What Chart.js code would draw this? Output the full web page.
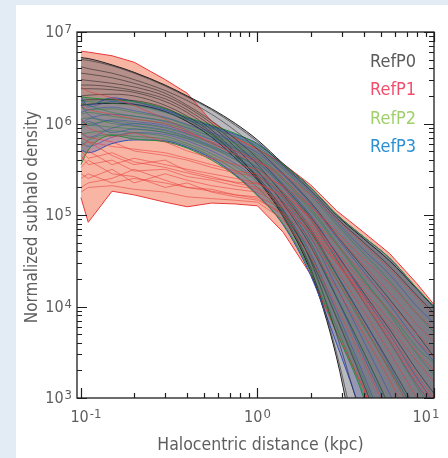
<!DOCTYPE html>
<html>
<head>
<meta charset="utf-8">
<script src="https://cdn.jsdelivr.net/npm/chart.js@4.4.1/dist/chart.umd.min.js"></script>
<style>
  html, body { margin: 0; padding: 0; background: #e3ebf5; }
  #panel { position: absolute; left: 16px; top: 5px; width: 432px; height: 453px; background: #fff; }
  canvas { display: block; }
</style>
</head>
<body>
<div id="panel"><canvas id="chart" width="432" height="453"></canvas></div>
<script>
// halocentric distance (kpc) shared by every curve
const radii = [0.1, 0.11, 0.15, 0.2, 0.3, 0.4, 0.55, 0.75, 1, 1.4, 2, 2.8, 4, 5.6, 8, 10];

const seriesNames = ['RefP0', 'RefP1', 'RefP2', 'RefP3'];
const xTicks = [0.1, 1, 10];
const xTickExps = ['-1', '0', '1'];
const yTicks = [1e3, 1e4, 1e5, 1e6, 1e7];
const yTickExps = ['3', '4', '5', '6', '7'];

// RefP0 envelope + individual haloes
const p0Upper = [5.25e6, 5.13e6, 4.37e6, 3.63e6, 2.63e6, 2.0e6, 1.45e6, 1.0e6, 6.61e5, 3.63e5, 2.0e5, 1.0e5, 5.5e4, 3.16e4, 1.55e4, 9.77e3];
const p0Lower = [1.58e6, 1.62e6, 1.66e6, 1.62e6, 1.35e6, 1.05e6, 7.08e5, 4.17e5, 2.4e5, 9.55e4, 2.4e4, 2.82e3, 100, 10, 10, 10];
const p0Lines = [
  [5.01e6, 4.9e6, 4.27e6, 3.55e6, 2.57e6, 1.95e6, 1.41e6, 9.55e5, 6.31e5, 3.47e5, 1.86e5, 9.33e4, 5.01e4, 2.75e4, 1.32e4, 8.51e3],
  [4.17e6, 3.98e6, 3.55e6, 3.02e6, 2.29e6, 1.78e6, 1.26e6, 8.32e5, 5.25e5, 2.82e5, 1.38e5, 6.03e4, 2.63e4, 1.2e4, 5.01e3, 2.82e3],
  [3.55e6, 3.47e6, 3.16e6, 2.75e6, 2.14e6, 1.58e6, 1.07e6, 6.76e5, 4.17e5, 2.09e5, 9.55e4, 3.8e4, 1.41e4, 5.62e3, 2.0e3, 1.12e3],
  [3.02e6, 2.95e6, 2.75e6, 2.51e6, 2.0e6, 1.51e6, 1.0e6, 6.03e5, 3.55e5, 1.66e5, 6.61e4, 2.24e4, 7.08e3, 2.4e3, 708, 316],
  [2.63e6, 2.63e6, 2.51e6, 2.29e6, 1.86e6, 1.41e6, 9.33e5, 5.5e5, 3.02e5, 1.32e5, 4.57e4, 1.26e4, 3.16e3, 794, 158, 63],
  [2.4e6, 2.4e6, 2.34e6, 2.19e6, 1.74e6, 1.32e6, 8.51e5, 4.79e5, 2.51e5, 1.05e5, 3.31e4, 7.59e3, 1.41e3, 251, 32, 10],
  [2.0e6, 2.04e6, 2.09e6, 2.0e6, 1.58e6, 1.2e6, 7.94e5, 4.47e5, 2.63e5, 1.12e5, 3.16e4, 5.01e3, 501, 63, 10, 10],
  [1.78e6, 1.82e6, 1.82e6, 1.78e6, 1.48e6, 1.12e6, 7.59e5, 4.57e5, 2.51e5, 1.0e5, 2.63e4, 3.16e3, 158, 10, 10, 10]
];

// RefP1
const p1Upper = [6.17e6, 6.03e6, 5.5e6, 4.68e6, 3.02e6, 2.14e6, 1.05e6, 6.92e5, 5.25e5, 3.63e5, 2.14e5, 1.12e5, 6.46e4, 3.8e4, 1.78e4, 1.05e4];
const p1Lower = [1.55e5, 8.32e4, 1.82e5, 1.66e5, 1.38e5, 1.23e5, 1.35e5, 1.32e5, 1.26e5, 6.46e4, 2.24e4, 5.25e3, 1.26e3, 200, 32, 10];
const p1Lines = [
  [1.12e6, 8.91e5, 7.08e5, 7.94e5, 6.31e5, 5.01e5, 4.17e5, 3.55e5, 3.16e5, 2.0e5, 8.91e4, 3.55e4, 1.26e4, 5.01e3, 1.78e3, 1.0e3],
  [3.98e5, 5.01e5, 3.55e5, 4.17e5, 3.55e5, 3.16e5, 2.82e5, 2.51e5, 2.24e5, 1.58e5, 7.94e4, 3.55e4, 1.51e4, 7.08e3, 3.16e3, 2.0e3],
  [2.82e5, 2.51e5, 3.16e5, 2.24e5, 2.82e5, 2.4e5, 2.09e5, 1.91e5, 1.78e5, 1.26e5, 6.31e4, 2.51e4, 8.91e3, 3.16e3, 1.0e3, 501],
  [2.0e5, 2.24e5, 2.51e5, 3.16e5, 2.4e5, 2.0e5, 1.91e5, 1.66e5, 1.51e5, 1.0e5, 4.47e4, 1.58e4, 5.01e3, 1.58e3, 398, 200],
  [5.62e5, 6.31e5, 4.47e5, 3.55e5, 3.98e5, 3.02e5, 2.63e5, 2.24e5, 2.0e5, 1.41e5, 7.59e4, 3.16e4, 1.2e4, 4.47e3, 1.58e3, 891],
  [7.94e5, 7.08e5, 6.31e5, 5.01e5, 4.47e5, 3.98e5, 3.31e5, 2.88e5, 2.63e5, 1.78e5, 8.91e4, 3.98e4, 1.78e4, 8.91e3, 4.17e3, 2.82e3],
  [3.31e5, 3.98e5, 2.82e5, 2.63e5, 2.0e5, 2.24e5, 1.78e5, 1.58e5, 1.45e5, 1.05e5, 5.62e4, 2.0e4, 6.31e3, 2.0e3, 562, 251],
  [4.47e5, 3.55e5, 3.98e5, 3.02e5, 3.16e5, 2.63e5, 2.4e5, 2.09e5, 1.91e5, 1.32e5, 7.08e4, 3.02e4, 1.12e4, 4.17e3, 1.41e3, 794],
  [1.58e6, 1.41e6, 1.26e6, 1.12e6, 1.0e6, 7.94e5, 6.31e5, 5.01e5, 3.98e5, 2.51e5, 1.26e5, 6.03e4, 2.82e4, 1.41e4, 6.31e3, 4.17e3],
  [2.51e6, 2.24e6, 1.91e6, 1.58e6, 1.12e6, 8.32e5, 6.03e5, 4.57e5, 3.8e5, 2.82e5, 1.66e5, 8.91e4, 4.79e4, 2.63e4, 1.26e4, 7.94e3],
  [7.08e5, 6.31e5, 5.62e5, 5.25e5, 4.79e5, 4.17e5, 3.55e5, 3.02e5, 2.82e5, 2.09e5, 1.26e5, 6.61e4, 3.31e4, 1.78e4, 8.32e3, 5.62e3],
  [2.51e5, 2.82e5, 2.24e5, 2.51e5, 2.24e5, 2.0e5, 1.82e5, 1.66e5, 1.58e5, 1.2e5, 6.61e4, 3.02e4, 1.32e4, 6.03e3, 2.51e3, 1.51e3],
  [1.78e5, 2.0e5, 2.09e5, 1.91e5, 1.78e5, 1.58e5, 1.51e5, 1.45e5, 1.38e5, 8.91e4, 3.55e4, 1.0e4, 2.51e3, 631, 126, 50],
  [5.01e5, 4.17e5, 4.79e5, 3.8e5, 3.31e5, 2.88e5, 2.51e5, 2.29e5, 2.19e5, 1.66e5, 9.55e4, 4.79e4, 2.24e4, 1.12e4, 5.01e3, 3.31e3]
];

// RefP2
const p2Upper = [1.95e6, 1.91e6, 1.82e6, 1.74e6, 1.45e6, 1.17e6, 9.55e5, 7.76e5, 5.89e5, 3.55e5, 2.0e5, 1.02e5, 5.75e4, 3.39e4, 1.58e4, 1.0e4];
const p2Lower = [3.55e5, 5.13e5, 7.41e5, 6.76e5, 6.31e5, 5.37e5, 3.98e5, 2.69e5, 1.62e5, 7.94e4, 2.4e4, 5.25e3, 1.0e3, 100, 10, 10];
const p2Lines = [
  [1.78e6, 1.74e6, 1.66e6, 1.58e6, 1.32e6, 1.1e6, 8.91e5, 7.08e5, 5.37e5, 3.16e5, 1.66e5, 7.94e4, 3.8e4, 1.91e4, 8.32e3, 5.25e3],
  [1.51e6, 1.41e6, 1.45e6, 1.32e6, 1.15e6, 9.55e5, 7.59e5, 6.03e5, 4.47e5, 2.51e5, 1.2e5, 5.01e4, 2.0e4, 8.32e3, 3.02e3, 1.78e3],
  [1.26e6, 1.32e6, 1.2e6, 1.12e6, 1.0e6, 8.51e5, 6.76e5, 5.25e5, 3.8e5, 2.09e5, 9.12e4, 3.31e4, 1.12e4, 4.17e3, 1.32e3, 708],
  [1.05e6, 1.0e6, 1.07e6, 1.0e6, 8.91e5, 7.59e5, 6.03e5, 4.57e5, 3.31e5, 1.74e5, 7.08e4, 2.24e4, 6.31e3, 2.0e3, 562, 282],
  [8.91e5, 9.55e5, 9.12e5, 8.71e5, 7.94e5, 6.76e5, 5.37e5, 3.98e5, 2.75e5, 1.38e5, 5.01e4, 1.32e4, 3.16e3, 794, 200, 100],
  [7.59e5, 7.94e5, 8.32e5, 7.94e5, 7.24e5, 6.03e5, 4.68e5, 3.39e5, 2.29e5, 1.1e5, 3.55e4, 7.94e3, 1.58e3, 316, 63, 25],
  [1.66e6, 1.58e6, 1.32e6, 1.2e6, 1.07e6, 9.12e5, 7.24e5, 5.62e5, 4.17e5, 2.4e5, 1.12e5, 4.79e4, 1.91e4, 8.91e3, 3.55e3, 2.4e3],
  [1.12e6, 1.15e6, 1.0e6, 9.33e5, 8.32e5, 7.08e5, 5.62e5, 4.27e5, 3.02e5, 1.58e5, 6.31e4, 2.0e4, 6.03e3, 2.09e3, 661, 380],
  [5.62e5, 6.61e5, 7.59e5, 7.24e5, 6.76e5, 5.75e5, 4.37e5, 3.09e5, 2.0e5, 9.55e4, 2.82e4, 6.03e3, 1.12e3, 200, 32, 10]
];

// RefP3
const p3Upper = [1.95e6, 1.58e6, 1.91e6, 1.74e6, 1.41e6, 1.15e6, 9.33e5, 7.59e5, 6.03e5, 3.55e5, 2.0e5, 1.02e5, 5.75e4, 3.39e4, 1.58e4, 1.0e4];
const p3Lower = [5.13e5, 4.79e5, 6.03e5, 6.61e5, 6.46e5, 5.5e5, 4.17e5, 2.75e5, 1.66e5, 7.76e4, 2.19e4, 3.98e3, 562, 63, 10, 10];
const p3Lines = [
  [1.82e6, 1.51e6, 1.74e6, 1.62e6, 1.35e6, 1.1e6, 8.91e5, 7.24e5, 5.62e5, 3.31e5, 1.78e5, 8.51e4, 4.17e4, 2.24e4, 1.0e4, 6.61e3],
  [1.32e6, 1.41e6, 1.51e6, 1.38e6, 1.17e6, 9.77e5, 7.94e5, 6.31e5, 4.79e5, 2.75e5, 1.32e5, 5.75e4, 2.4e4, 1.05e4, 4.17e3, 2.51e3],
  [1.0e6, 1.12e6, 1.26e6, 1.2e6, 1.05e6, 8.91e5, 7.08e5, 5.37e5, 3.98e5, 2.19e5, 1.0e5, 3.8e4, 1.32e4, 5.01e3, 1.66e3, 891],
  [7.94e5, 7.08e5, 8.91e5, 1.0e6, 9.12e5, 7.76e5, 6.17e5, 4.57e5, 3.24e5, 1.74e5, 7.08e4, 2.29e4, 7.08e3, 2.24e3, 631, 316],
  [1.58e6, 1.26e6, 1.05e6, 9.55e5, 8.51e5, 7.24e5, 5.75e5, 4.27e5, 2.95e5, 1.51e5, 5.75e4, 1.66e4, 4.17e3, 1.12e3, 282, 141],
  [6.31e5, 5.62e5, 7.08e5, 7.94e5, 7.59e5, 6.46e5, 5.01e5, 3.63e5, 2.4e5, 1.15e5, 3.8e4, 8.91e3, 1.78e3, 355, 63, 25],
  [1.12e6, 9.55e5, 1.1e6, 1.05e6, 9.55e5, 8.13e5, 6.61e5, 5.01e5, 3.72e5, 2.0e5, 8.91e4, 3.31e4, 1.12e4, 4.17e3, 1.41e3, 794],
  [8.91e5, 1.05e6, 7.94e5, 8.71e5, 7.94e5, 6.92e5, 5.5e5, 4.07e5, 2.75e5, 1.38e5, 5.01e4, 1.26e4, 2.82e3, 708, 158, 71]
];

const FONT = '"Liberation Sans Narrow", "DejaVu Sans Condensed", "Open Sans", sans-serif';
const TEXT = '#5e5e5e';
const legendColors = ['#5a5a5a', '#f0506e', '#9fd06c', '#2c8fd3'];

const toPoints = vals => vals.map((v, i) => ({ x: radii[i], y: v }));

let datasets = [];

function addBand(upper, lower, edge, fillColor, order, tension) {
  const common = { borderColor: edge, borderWidth: 1, pointRadius: 0, order: order,
    tension: tension, cubicInterpolationMode: tension ? 'monotone' : 'default' };
  datasets.push(Object.assign({ data: toPoints(upper), fill: '+1', backgroundColor: fillColor }, common));
  datasets.push(Object.assign({ data: toPoints(lower), fill: false }, common));
}

function addLines(lines, color, order, tension) {
  lines.forEach(vals => {
    datasets.push({
      data: toPoints(vals), borderColor: color, borderWidth: 0.8, pointRadius: 0, fill: false,
      order: order, tension: tension, cubicInterpolationMode: tension ? 'monotone' : 'default'
    });
  });
}

addBand(p1Upper, p1Lower, '#e8383a', 'rgba(240,90,50,0.45)', 40, 0);
addBand(p0Upper, p0Lower, '#222222', 'rgba(100,100,110,0.45)', 30, 0.4);
addBand(p3Upper, p3Lower, '#3352b0', 'rgba(95,100,165,0.4)', 20, 0.4);
addBand(p2Upper, p2Lower, '#2c8a3c', 'rgba(80,120,105,0.35)', 10, 0.4);
addLines(p0Lines, 'rgba(25,25,25,0.65)', 8, 0.4);
addLines(p3Lines, 'rgba(45,75,175,0.65)', 6, 0.4);
addLines(p2Lines, 'rgba(35,130,60,0.65)', 4, 0.4);
addLines(p1Lines, 'rgba(232,60,60,0.7)', 2, 0);

function drawPow(ctx, exp, x, y, align) {
  ctx.font = '16px ' + FONT;
  const w1 = ctx.measureText('10').width;
  ctx.font = '13px ' + FONT;
  const w2 = ctx.measureText(exp).width;
  const w = w1 + 1 + w2;
  let x0 = align === 'right' ? x - w : x - w / 2;
  ctx.textAlign = 'left';
  ctx.font = '16px ' + FONT;
  ctx.fillText('10', x0, y);
  ctx.font = '13px ' + FONT;
  ctx.fillText(exp, x0 + w1 + 1, y - 4);
}

const decorations = {
  id: 'decorations',
  afterDraw(chart) {
    const { ctx, chartArea: a, scales: { x, y } } = chart;
    ctx.save();
    ctx.strokeStyle = '#1e1e1e';
    ctx.lineWidth = 1.3;
    ctx.strokeRect(a.left, a.top, a.right - a.left, a.bottom - a.top);
    ctx.lineWidth = 1.2;
    ctx.beginPath();
    for (let e = -2; e <= 1; e++) {
      for (let m = 1; m <= 9; m++) {
        const v = m * Math.pow(10, e);
        if (v < x.min || v > x.max) continue;
        const px = Math.round(x.getPixelForValue(v)) + 0.5;
        const len = m === 1 ? 10 : 5;
        ctx.moveTo(px, a.bottom); ctx.lineTo(px, a.bottom - len);
        ctx.moveTo(px, a.top); ctx.lineTo(px, a.top + len);
      }
    }
    for (let e = 3; e <= 7; e++) {
      for (let m = 1; m <= 9; m++) {
        const v = m * Math.pow(10, e);
        if (v < y.min || v > y.max) continue;
        const py = Math.round(y.getPixelForValue(v)) + 0.5;
        const len = m === 1 ? 10 : 5;
        ctx.moveTo(a.left, py); ctx.lineTo(a.left + len, py);
        ctx.moveTo(a.right, py); ctx.lineTo(a.right - len, py);
      }
    }
    ctx.stroke();

    ctx.fillStyle = TEXT;
    ctx.textBaseline = 'alphabetic';
    yTicks.forEach((v, i) => {
      drawPow(ctx, yTickExps[i], a.left - 5, y.getPixelForValue(v) + 5, 'right');
    });
    xTicks.forEach((v, i) => {
      let px = x.getPixelForValue(v);
      if (i === xTicks.length - 1) px -= 8;
      if (i === 0) px += 5;
      drawPow(ctx, xTickExps[i], px, a.bottom + 24, 'center');
    });

    ctx.font = '17.5px ' + FONT;
    ctx.textAlign = 'center';
    ctx.fillText('Halocentric distance (kpc)', (a.left + a.right) / 2 + 5, a.bottom + 52);
    ctx.save();
    ctx.translate(21, (a.top + a.bottom) / 2 + 2);
    ctx.rotate(-Math.PI / 2);
    ctx.font = '17px ' + FONT;
    ctx.fillText('Normalized subhalo density', 0, 0);
    ctx.restore();

    ctx.textAlign = 'left';
    ctx.font = '18px ' + FONT;
    seriesNames.forEach((name, i) => {
      ctx.fillStyle = legendColors[i];
      ctx.fillText(name, a.right - 64, a.top + 35 + i * 28.3);
    });
    ctx.restore();
  }
};

new Chart(document.getElementById('chart'), {
  type: 'line',
  data: { datasets: datasets },
  options: {
    responsive: false,
    animation: false,
    devicePixelRatio: 1,
    layout: { padding: { top: 27, right: 14, left: 0, bottom: 0 } },
    plugins: {
      legend: { display: false },
      tooltip: { enabled: false },
      filler: { propagate: false, drawTime: 'beforeDatasetsDraw' }
    },
    scales: {
      x: {
        type: 'logarithmic', min: 0.095, max: 10,
        ticks: { display: false }, grid: { display: false }, border: { display: false },
        afterFit: s => { s.height = 60; }
      },
      y: {
        type: 'logarithmic', min: 1e3, max: 1e7,
        ticks: { display: false }, grid: { display: false }, border: { display: false },
        afterFit: s => { s.width = 61; }
      }
    }
  },
  plugins: [decorations]
});
</script>
</body>
</html>
